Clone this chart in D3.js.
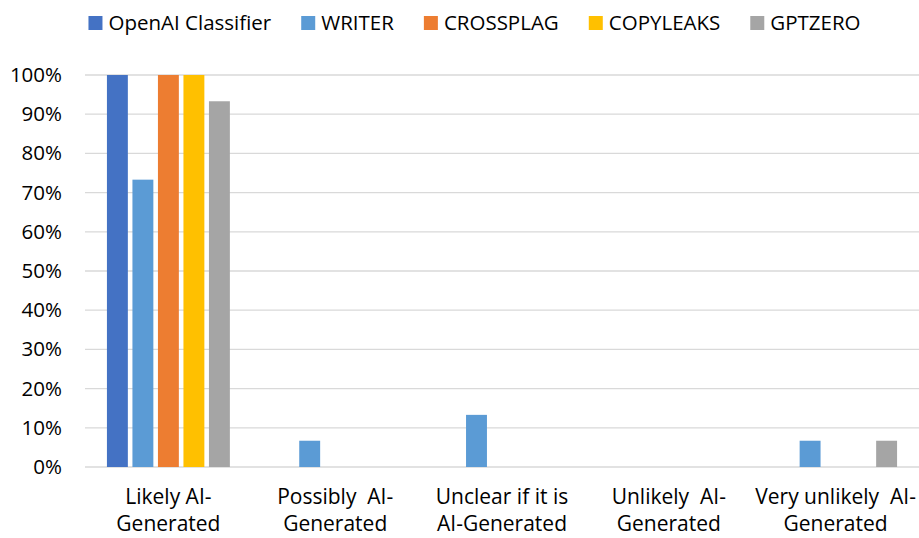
<!DOCTYPE html>
<html>
<head>
<meta charset="utf-8">
<script src="https://cdn.jsdelivr.net/npm/d3@7"></script>
<style>
  body { margin: 0; background: #fff; }
  svg { font-family: "Open Sans", sans-serif; }
</style>
</head>
<body>
<svg id="chart"></svg>
<script>
const categories = ["Likely AI-Generated", "Possibly AI-Generated", "Unclear if it is AI-Generated", "Unlikely AI-Generated", "Very unlikely AI-Generated"];
const categoryLines = [
    ["Likely AI-", "Generated"],
    ["Possibly  AI-", "Generated"],
    ["Unclear if it is", "AI-Generated"],
    ["Unlikely  AI-", "Generated"],
    ["Very unlikely  AI-", "Generated"]
];
const seriesNames = ["OpenAI Classifier", "WRITER", "CROSSPLAG", "COPYLEAKS", "GPTZERO"];
const seriesColors = ["#4472C4", "#5B9BD5", "#ED7D31", "#FFC000", "#A5A5A5"];
const openaiValues = [100, 0, 0, 0, 0];
const writerValues = [73.3, 6.7, 13.3, 0, 6.7];
const crossplagValues = [100, 0, 0, 0, 0];
const copyleaksValues = [100, 0, 0, 0, 0];
const gptzeroValues = [93.3, 0, 0, 0, 6.7];
const yTicks = [0, 10, 20, 30, 40, 50, 60, 70, 80, 90, 100];

const seriesValues = [openaiValues, writerValues, crossplagValues, copyleaksValues, gptzeroValues];

const width = 919, height = 538;
const margin = { top: 75, right: 0, bottom: 71, left: 85 };

const svg = d3.select("#chart").attr("width", width).attr("height", height);

const x0 = d3.scaleBand()
    .domain(categories)
    .range([margin.left, width - margin.right])
    .paddingInner(0.263)
    .paddingOuter(0.1315);

const x1 = d3.scaleBand()
    .domain(seriesNames)
    .range([0, x0.bandwidth()])
    .paddingInner(0.18);

const y = d3.scaleLinear()
    .domain([0, 100])
    .range([height - margin.bottom, margin.top]);

// gridlines
svg.append("g")
    .selectAll("line")
    .data(yTicks)
    .join("line")
    .attr("x1", margin.left)
    .attr("x2", width - margin.right)
    .attr("y1", d => y(d))
    .attr("y2", d => y(d))
    .attr("stroke", "#D9D9D9")
    .attr("stroke-width", 1.3);

// y axis labels
const yAxis = svg.append("g")
    .attr("transform", `translate(${margin.left - 23}, 0)`)
    .call(d3.axisLeft(y).tickValues(yTicks).tickSize(0).tickPadding(0).tickFormat(d => d + "%"));
yAxis.select(".domain").remove();
yAxis.selectAll("text")
    .attr("font-size", "20.5px")
    .attr("fill", "#000")
    .attr("font-family", "'Open Sans', sans-serif");

// bars
const rows = [];
categories.forEach((c, i) => {
    seriesNames.forEach((s, j) => {
        rows.push({ category: c, series: s, value: seriesValues[j][i], color: seriesColors[j] });
    });
});

svg.append("g")
    .selectAll("rect")
    .data(rows.filter(d => d.value > 0))
    .join("rect")
    .attr("x", d => x0(d.category) + x1(d.series))
    .attr("y", d => y(d.value))
    .attr("width", x1.bandwidth())
    .attr("height", d => y(0) - y(d.value))
    .attr("fill", d => d.color);

// category labels
const catLabels = svg.append("g")
    .selectAll("text")
    .data(categories)
    .join("text")
    .attr("text-anchor", "middle")
    .attr("font-size", "21px")
    .attr("fill", "#000")
    .style("white-space", "pre")
    .attr("x", d => x0(d) + x0.bandwidth() / 2);

catLabels.each(function(d, i) {
    const t = d3.select(this);
    categoryLines[i].forEach((line, k) => {
        t.append("tspan")
            .attr("x", x0(d) + x0.bandwidth() / 2)
            .attr("y", 504 + k * 27)
            .text(line);
    });
});

// legend
const legend = svg.append("g");
const items = legend.selectAll("g")
    .data(seriesNames)
    .join("g");
items.append("rect")
    .attr("width", 14)
    .attr("height", 14)
    .attr("y", 16)
    .attr("fill", (d, i) => seriesColors[i]);
items.append("text")
    .attr("x", 20)
    .attr("y", 30)
    .attr("font-size", "20.5px")
    .attr("fill", "#000")
    .text(d => d);

let offset = 0;
const positions = [];
items.each(function() {
    const w = d3.select(this).select("text").node().getComputedTextLength();
    positions.push(offset);
    offset += 20 + w + 30;
});
const totalWidth = offset - 30;
const startX = (87 + 862) / 2 - totalWidth / 2;
items.attr("transform", (d, i) => `translate(${startX + positions[i]}, 0)`);
</script>
</body>
</html>
